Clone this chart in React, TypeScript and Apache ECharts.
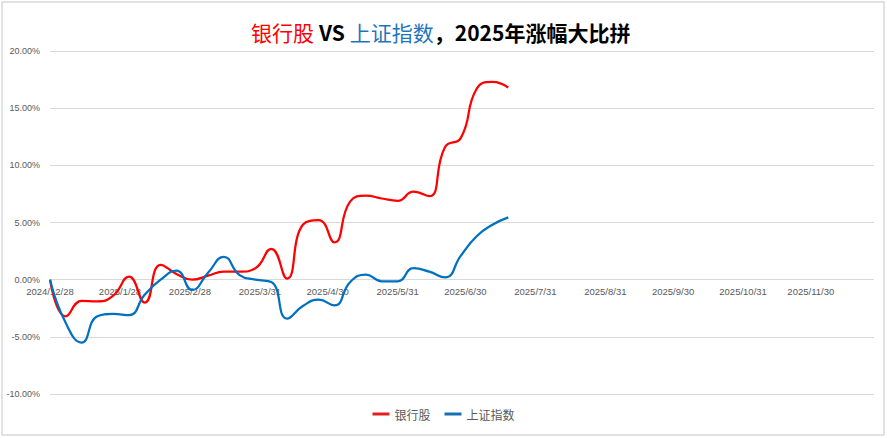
import React, { useEffect, useRef } from "react";
import * as echarts from "echarts";

const dates = [
  "2024/12/28", "2025/1/4", "2025/1/11", "2025/1/18", "2025/1/25", "2025/2/1",
  "2025/2/8", "2025/2/15", "2025/2/22", "2025/3/1", "2025/3/8", "2025/3/15",
  "2025/3/22", "2025/3/29", "2025/4/5", "2025/4/12", "2025/4/19", "2025/4/26",
  "2025/5/3", "2025/5/10", "2025/5/17", "2025/5/24", "2025/5/31", "2025/6/7",
  "2025/6/14", "2025/6/21", "2025/6/28", "2025/7/5", "2025/7/12", "2025/7/19",
];
const bankValues = [
  0, -3.2, -1.85, -1.9, -1.4, 0.26, -2.0, 1.3, 0.5, 0.0, 0.35, 0.7, 0.7, 1.0,
  2.7, 0.1, 4.8, 5.2, 3.26, 6.85, 7.34, 7.1, 6.9, 7.7, 7.3, 11.6, 12.4, 16.7,
  17.3, 16.8,
];
const sseValues = [
  0, -3.8, -5.5, -3.2, -3.0, -3.1, -1.3, 0.0, 0.8, -0.9, 0.6, 2.0, 0.4, 0.0,
  -0.2, -3.4, -2.3, -1.75, -2.25, -0.2, 0.44, -0.15, -0.15, 1.0, 0.7, 0.2, 2.1,
  3.8, 4.8, 5.45,
];
const tickDates = [
  "2024/12/28", "2025/1/28", "2025/2/28", "2025/3/31", "2025/4/30", "2025/5/31",
  "2025/6/30", "2025/7/31", "2025/8/31", "2025/9/30", "2025/10/31", "2025/11/30",
];
const axisStart = "2024/12/28";
const axisEnd = "2025/12/28";
const yMin = -10;
const yMax = 20;
const yStep = 5;
const seriesNames = ["银行股", "上证指数"];

const DAY = 86400000;
function toUTC(s: string) {
  const [y, m, d] = s.split("/").map(Number);
  return Date.UTC(y, m - 1, d);
}
const base = toUTC(axisStart);
function offset(s: string) {
  return Math.round((toUTC(s) - base) / DAY);
}
function fmt(v: number) {
  const d = new Date(base + Math.round(v) * DAY);
  return `${d.getUTCFullYear()}/${d.getUTCMonth() + 1}/${d.getUTCDate()}`;
}

const H = 438;
const gridTop = 51;
const gridBottom = 44;

export default function App() {
  const ref = useRef<HTMLDivElement>(null);
  useEffect(() => {
    document.body.style.margin = "0";
    const chart = echarts.init(ref.current!, null, { renderer: "svg" });
    const font = "'Liberation Sans', 'Noto Sans CJK SC', sans-serif";
    const cjk = "'Noto Sans CJK SC'";
    // distance from the grid's bottom edge up to the zero line, so the
    // date labels sit just under the 0% line as in the reference
    const plotH = H - gridTop - gridBottom;
    const zeroUp = (plotH * (0 - yMin)) / (yMax - yMin);
    chart.setOption({
      animation: false,
      backgroundColor: "#ffffff",
      title: {
        left: 246,
        top: 16,
        text: "{r|银行股} {k|VS} {b|上证指数}{k|，2025年涨幅大比拼}",
        textStyle: {
          rich: {
            r: { color: "#FF0000", fontSize: 21, fontWeight: "normal", fontFamily: cjk },
            b: { color: "#1F75BC", fontSize: 21, fontWeight: "normal", fontFamily: cjk },
            k: { color: "#000000", fontSize: 21, fontWeight: "bold", fontFamily: cjk },
          },
        },
      },
      graphic: [
        {
          type: "rect",
          shape: { x: 2, y: 2, width: 882, height: 433 },
          style: { fill: "none", stroke: "#d9d9d9", lineWidth: 1.5 },
          silent: true,
        },
      ],
      legend: {
        bottom: 13,
        left: "center",
        icon: "rect",
        itemWidth: 17,
        itemHeight: 3,
        itemGap: 14,
        textStyle: { color: "#595959", fontSize: 12, fontFamily: cjk },
        data: seriesNames,
      },
      grid: { left: 50, right: 13, top: gridTop, bottom: gridBottom, containLabel: false },
      xAxis: {
        type: "value",
        min: offset(axisStart),
        max: offset(axisEnd),
        axisLine: { show: false, onZero: false },
        axisTick: { show: false },
        splitLine: { show: false },
        axisLabel: {
          customValues: tickDates.map(offset),
          formatter: (v: number) => fmt(v),
          color: "#595959",
          fontSize: 9.5,
          fontFamily: font,
          margin: -(zeroUp - 7),
        },
      },
      yAxis: {
        type: "value",
        min: yMin,
        max: yMax,
        interval: yStep,
        axisLine: { show: false, onZero: false },
        axisTick: { show: false },
        splitLine: { lineStyle: { color: "#d9d9d9", width: 1 } },
        axisLabel: {
          formatter: (v: number) => v.toFixed(2) + "%",
          color: "#595959",
          fontSize: 9,
          fontFamily: font,
          margin: 10,
        },
      },
      series: [
        {
          name: seriesNames[0],
          type: "line",
          smooth: 0.5,
          symbol: "none",
          lineStyle: { color: "#FF0000", width: 2.25 },
          itemStyle: { color: "#E02020" },
          data: dates.map((d, i) => [offset(d), bankValues[i]]),
        },
        {
          name: seriesNames[1],
          type: "line",
          smooth: 0.5,
          symbol: "none",
          lineStyle: { color: "#0070C0", width: 2.25 },
          itemStyle: { color: "#1570B0" },
          data: dates.map((d, i) => [offset(d), sseValues[i]]),
        },
      ],
    });
    return () => chart.dispose();
  }, []);
  return (
    <div
      ref={ref}
      style={{ position: "absolute", left: 0, top: 0, width: 887, height: H }}
    />
  );
}
